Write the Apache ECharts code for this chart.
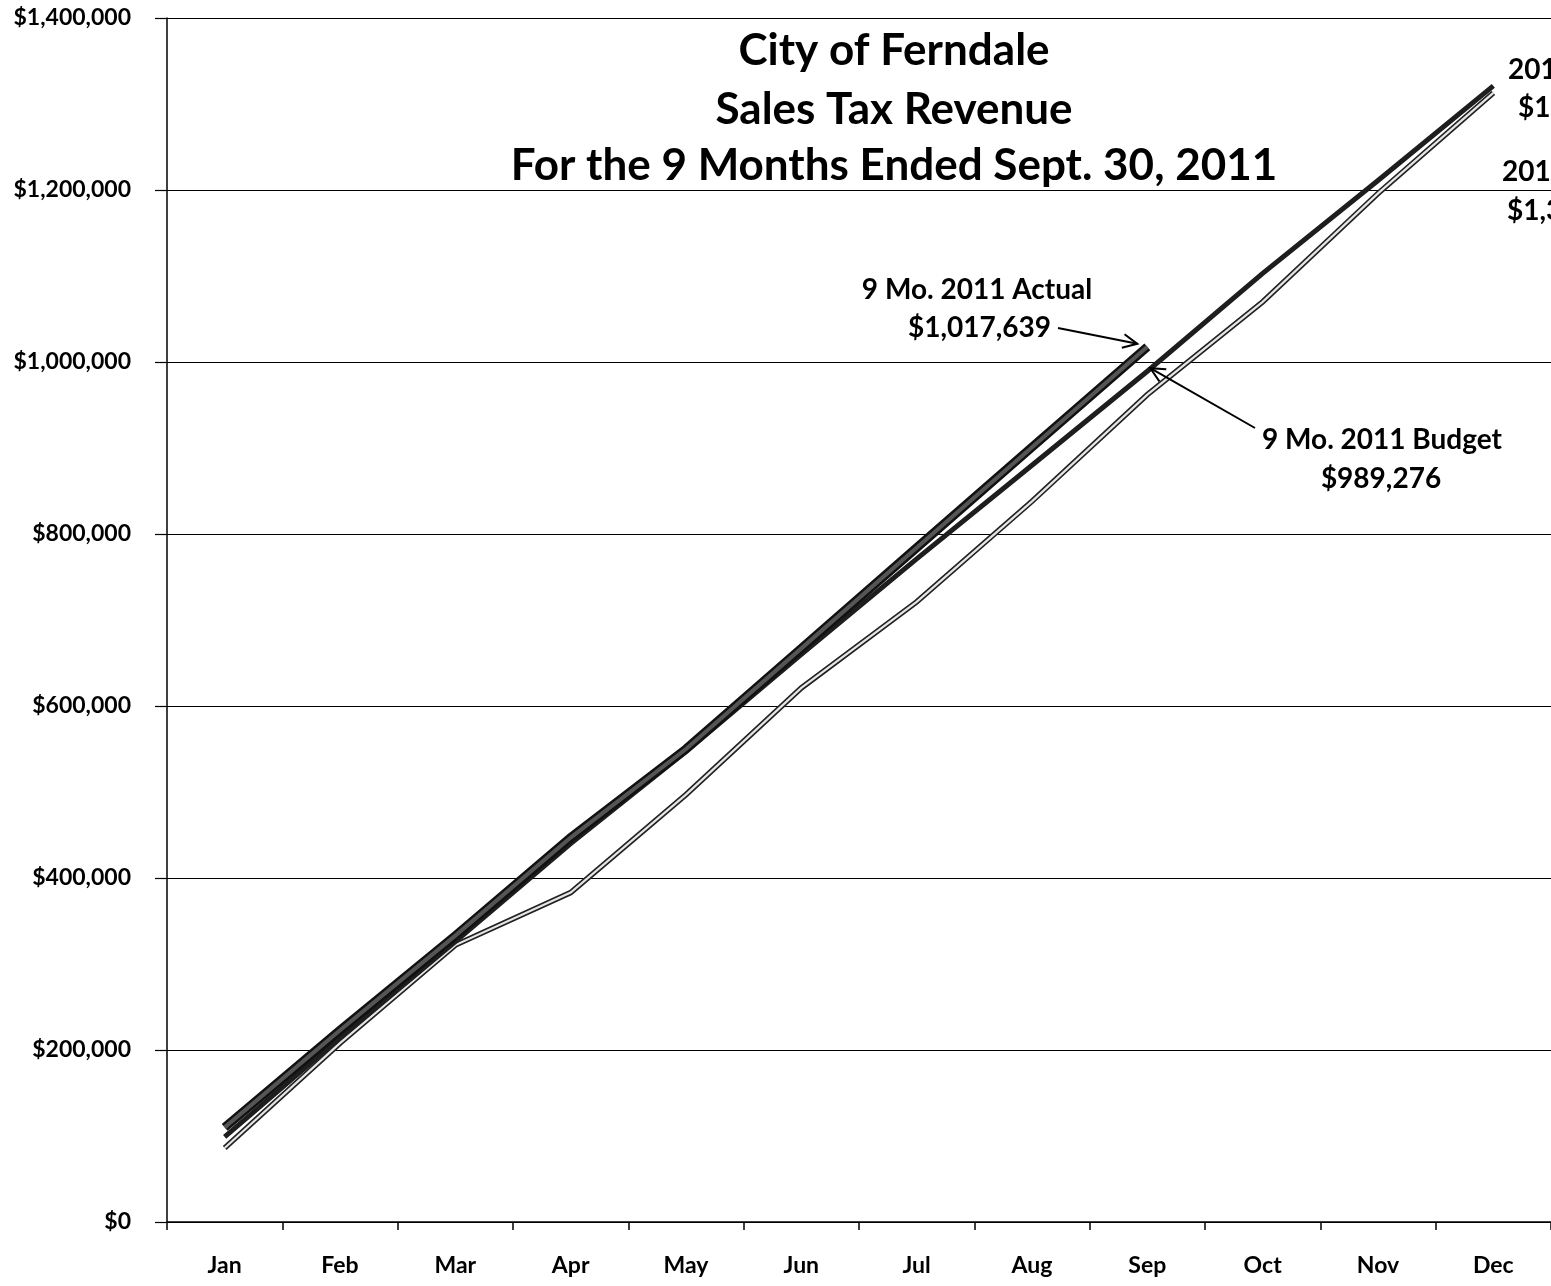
<!DOCTYPE html>
<html>
<head>
<meta charset="utf-8">
<script src="https://cdn.jsdelivr.net/npm/echarts@6/dist/echarts.min.js"></script>
<style>
html,body{margin:0;padding:0;background:#fff;}
#chart{width:1551px;height:1286px;}
</style>
</head>
<body>
<div id="chart"></div>
<script>
const months = ['Jan','Feb','Mar','Apr','May','Jun','Jul','Aug','Sep','Oct','Nov','Dec'];
const actual2011 = [110000, 223000, 333000, 447000, 550000, 667000, 784000, 901000, 1017639];
const budget2011 = [99000, 214000, 326000, 440000, 547000, 660000, 771000, 880000, 989276, 1103000, 1211000, 1321000];
const actual2010 = [86000, 208000, 322000, 383000, 497000, 621000, 721000, 838000, 962000, 1070000, 1196000, 1313000];
const yTicks = [0, 200000, 400000, 600000, 800000, 1000000, 1200000, 1400000];

const FONT = 'Lato';
const fmt = v => '$' + v.toLocaleString('en-US');

const chart = echarts.init(document.getElementById('chart'), null, {renderer: 'canvas'});

function lineSeries(name, data, color, width, z) {
  return {
    name: name, type: 'line', data: data, symbol: 'none', smooth: false,
    lineStyle: {color: color, width: width, cap: 'butt', join: 'miter'},
    z: z, silent: true, animation: false
  };
}

chart.setOption({
  animation: false,
  backgroundColor: '#fff',
  grid: {left: 167, right: 0, top: 18, bottom: 64, containLabel: false},
  xAxis: {
    type: 'category', data: months, boundaryGap: true,
    axisLine: {lineStyle: {color: '#000', width: 1.5}},
    axisTick: {show: true, length: 8, lineStyle: {color: '#000', width: 1.5}},
    axisLabel: {color: '#000', fontFamily: FONT, fontWeight: 'bold', fontSize: 23, margin: 32}
  },
  yAxis: {
    type: 'value', min: yTicks[0], max: yTicks[yTicks.length - 1], interval: yTicks[1] - yTicks[0],
    axisLine: {show: true, lineStyle: {color: '#000', width: 1.5}},
    axisTick: {show: true, inside: false, length: 12, lineStyle: {color: '#000', width: 1.2}},
    splitLine: {show: true, lineStyle: {color: '#000', width: 1.2}},
    axisLabel: {color: '#000', fontFamily: FONT, fontWeight: 'bold', fontSize: 23, margin: 36, formatter: fmt}
  },
  series: [
    lineSeries('2010 Actual outline', actual2010, '#222', 5.5, 2),
    lineSeries('2010 Actual', actual2010, '#e6e6e6', 2.2, 3),
    lineSeries('2011 Budget', budget2011, '#1e1e1e', 5, 4),
    lineSeries('2011 Actual outline', actual2011, '#111', 9, 5),
    lineSeries('2011 Actual', actual2011, '#555', 4, 6)
  ]
});

// annotations
const pA = chart.convertToPixel({seriesIndex: 3}, [8, actual2011[8]]);
const pB = chart.convertToPixel({seriesIndex: 2}, [8, budget2011[8]]);

function arrow(x1, y1, x2, y2) {
  const ang = Math.atan2(y2 - y1, x2 - x1);
  const L = 16, a = 0.45;
  const h1 = [x2 - L * Math.cos(ang - a), y2 - L * Math.sin(ang - a)];
  const h2 = [x2 - L * Math.cos(ang + a), y2 - L * Math.sin(ang + a)];
  return [
    {type: 'line', shape: {x1, y1, x2, y2}, style: {stroke: '#000', lineWidth: 2}, z: 20},
    {type: 'polyline', shape: {points: [h1, [x2, y2], h2]}, style: {stroke: '#000', lineWidth: 2, fill: null}, z: 20}
  ];
}

const titleStyle = {fill: '#000', fontFamily: FONT, fontWeight: 'bold', fontSize: 44, textAlign: 'center', textVerticalAlign: 'middle'};
const annStyle = {fill: '#000', fontFamily: FONT, fontWeight: 'bold', fontSize: 28, textVerticalAlign: 'middle'};

const graphics = [
  {type: 'text', x: 894, y: 51, style: Object.assign({text: 'City of Ferndale'}, titleStyle), z: 30},
  {type: 'text', x: 894, y: 110, style: Object.assign({text: 'Sales Tax Revenue'}, titleStyle), z: 30},
  {type: 'text', x: 894, y: 166, style: Object.assign({text: 'For the 9 Months Ended Sept. 30, 2011'}, titleStyle), z: 30},
  {type: 'text', x: 977, y: 290, style: Object.assign({text: '9 Mo. 2011 Actual', textAlign: 'center'}, annStyle), z: 30},
  {type: 'text', x: 1051, y: 328, style: Object.assign({text: '$1,017,639', textAlign: 'right'}, annStyle), z: 30},
  {type: 'text', x: 1382, y: 440, style: Object.assign({text: '9 Mo. 2011 Budget', textAlign: 'center'}, annStyle), z: 30},
  {type: 'text', x: 1381, y: 479, style: Object.assign({text: '$989,276', textAlign: 'center'}, annStyle), z: 30},
  {type: 'text', x: 1508, y: 70, style: Object.assign({text: '2011 Budget', textAlign: 'left'}, annStyle), z: 30},
  {type: 'text', x: 1518, y: 108, style: Object.assign({text: '$1,319,035', textAlign: 'left'}, annStyle), z: 30},
  {type: 'text', x: 1502, y: 172, style: Object.assign({text: '2010 Actual', textAlign: 'left'}, annStyle), z: 30},
  {type: 'text', x: 1507, y: 211, style: Object.assign({text: '$1,313,408', textAlign: 'left'}, annStyle), z: 30}
].concat(arrow(1058, 328, pA[0] - 10, pA[1] - 3))
 .concat(arrow(1255, 428, pB[0] + 3, pB[1] - 3));

chart.setOption({graphic: {elements: graphics}});
</script>
</body>
</html>
